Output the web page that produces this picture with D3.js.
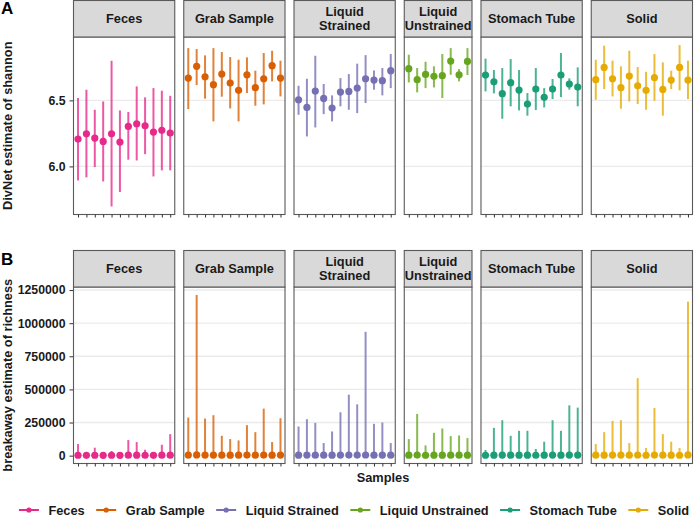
<!DOCTYPE html>
<html>
<head>
<meta charset="utf-8">
<script src="https://cdn.jsdelivr.net/npm/d3@7"></script>
<style>
  html, body { margin: 0; padding: 0; background: #fff; }
  svg { display: block; font-family: "Liberation Sans", Arial, sans-serif; }
</style>
</head>
<body>
<svg id="chart" width="694" height="525"></svg>
<script>
// ---------------- DATA ----------------
const groups = ["Feces", "Grab Sample", "Liquid Strained", "Liquid Unstrained", "Stomach Tube", "Solid"];
const stripLabels = [["Feces"], ["Grab Sample"], ["Liquid", "Strained"], ["Liquid", "Unstrained"], ["Stomach Tube"], ["Solid"]];
const colors = ["#e7298a", "#d95f02", "#7570b3", "#66a61e", "#1b9e77", "#e6ab02"];

// DivNet Shannon: [estimate, lower, upper] per sample
const fecesShannon = [[6.207,5.894,6.518],[6.247,5.917,6.581],[6.215,5.995,6.429],[6.189,5.886,6.492],[6.247,5.697,6.800],[6.184,5.806,6.424],[6.303,6.051,6.412],[6.323,6.045,6.606],[6.308,6.093,6.523],[6.260,5.924,6.593],[6.273,5.970,6.573],[6.253,5.970,6.535]];
const grabShannon = [[6.669,6.434,6.896],[6.758,6.616,6.889],[6.679,6.513,6.841],[6.619,6.341,6.896],[6.699,6.528,6.866],[6.631,6.439,6.828],[6.576,6.341,6.808],[6.694,6.556,6.826],[6.596,6.460,6.725],[6.664,6.470,6.859],[6.763,6.644,6.876],[6.669,6.530,6.801]];
const lsShannon = [[6.505,6.391,6.611],[6.447,6.227,6.664],[6.571,6.295,6.838],[6.515,6.396,6.624],[6.442,6.341,6.538],[6.563,6.455,6.669],[6.568,6.429,6.699],[6.593,6.404,6.778],[6.664,6.480,6.843],[6.654,6.581,6.727],[6.649,6.538,6.745],[6.725,6.593,6.851]];
const luShannon = [[6.740,6.636,6.846],[6.657,6.561,6.745],[6.697,6.593,6.793],[6.682,6.598,6.758],[6.687,6.518,6.851],[6.798,6.694,6.896],[6.694,6.644,6.737],[6.795,6.692,6.896]];
const stShannon = [[6.692,6.568,6.816],[6.641,6.553,6.730],[6.551,6.361,6.745],[6.634,6.455,6.813],[6.578,6.424,6.730],[6.472,6.384,6.556],[6.586,6.427,6.745],[6.523,6.447,6.593],[6.586,6.510,6.662],[6.692,6.525,6.859],[6.624,6.581,6.667],[6.601,6.455,6.750]];
const solidShannon = [[6.657,6.505,6.808],[6.750,6.586,6.914],[6.664,6.530,6.801],[6.596,6.437,6.758],[6.684,6.492,6.876],[6.611,6.472,6.753],[6.576,6.429,6.717],[6.672,6.497,6.851],[6.583,6.384,6.788],[6.654,6.586,6.725],[6.750,6.576,6.919],[6.654,6.510,6.801]];

// breakaway richness: [estimate, lower, upper] per sample
const fecesRich = [[3200,1500,87500],[2600,1400,25000],[3000,1500,60000],[2500,1300,17500],[2900,1500,35000],[2400,1300,10000],[3600,1600,117500],[3400,1600,102500],[3100,1500,45000],[2300,1300,5000],[3300,1500,82500],[3900,1700,162500]];
const grabRich = [[4200,1800,287500],[5200,2000,1212500],[4300,1800,280000],[4500,1900,305000],[3900,1700,150000],[3700,1700,125000],[3600,1700,115000],[4100,1800,230000],[3900,1700,177500],[4600,1900,355000],[3500,1600,102500],[4300,1800,282500]];
const lsRich = [[3800,1700,220000],[4000,1800,275000],[3900,1700,247500],[3300,1600,95000],[3700,1700,182500],[4200,1800,327500],[4600,1900,460000],[4400,1800,387500],[5000,2000,935000],[3900,1700,240000],[4000,1800,250000],[3300,1600,95000]];
const luRich = [[3500,1600,125000],[4100,1800,315000],[3200,1500,77500],[3700,1700,172500],[3800,1700,205000],[3600,1600,147500],[3600,1600,152500],[3500,1600,132500]];
const stRich = [[3000,1500,42500],[3800,1700,210000],[4000,1800,267500],[3600,1600,150000],[3700,1700,187500],[3700,1700,187500],[3100,1500,50000],[3400,1600,105000],[4000,1800,267500],[3700,1700,187500],[4300,1900,380000],[4200,1900,362500]];
const solidRich = [[3300,1500,87500],[3700,1700,177500],[4000,1800,262500],[4000,1800,267500],[3300,1500,95000],[4800,1900,585000],[3000,1500,57500],[4400,1800,360000],[3600,1700,162500],[3400,1600,105000],[3000,1500,57500],[5200,2000,1162500]];

const shannonByGroup = [fecesShannon, grabShannon, lsShannon, luShannon, stShannon, solidShannon];
const richByGroup = [fecesRich, grabRich, lsRich, luRich, stRich, solidRich];

const shannonTicks = [6.0, 6.5];
const richTicks = [0, 250000, 500000, 750000, 1000000, 1250000];

// ---------------- LAYOUT ----------------
const svg = d3.select("#chart");
const W = 694, H = 525;
const plotLeft = 73, plotRight = 693, panelGap = 8;
const font = '"Liberation Sans", Arial, sans-serif';
const borderCol = "#5a5a5a";

const units = shannonByGroup.map(d => d.length + 0.2);
const totalUnits = d3.sum(units);
const pxPerUnit = (plotRight - plotLeft - panelGap * (groups.length - 1)) / totalUnits;
const panelX = [];
let cx = plotLeft;
units.forEach(u => { panelX.push([cx, cx + u * pxPerUnit]); cx += u * pxPerUnit + panelGap; });

function expand(ext) { const r = ext[1] - ext[0]; return [ext[0] - 0.05 * r, ext[1] + 0.05 * r]; }

function drawRow(opts) {
  const { dataByGroup, stripTop, stripH, panelBottom, ticks, fmt, title, letter, letterY } = opts;
  const panelTop = stripTop + stripH;
  const all = dataByGroup.flat();
  const dom = expand([d3.min(all, d => d[1]), d3.max(all, d => d[2])]);
  const y = d3.scaleLinear().domain(dom).range([panelBottom, panelTop]);

  const g = svg.append("g");

  groups.forEach((grp, gi) => {
    const [x0, x1] = panelX[gi];
    const data = dataByGroup[gi];
    const names = data.map((_, i) => grp + " " + (i + 1));
    const x = d3.scalePoint().domain(names).range([x0, x1]).padding(0.6);
    const pg = g.append("g");

    pg.append("rect").attr("x", x0).attr("y", panelTop).attr("width", x1 - x0).attr("height", panelBottom - panelTop).attr("fill", "#fff");
    pg.selectAll("line.grid").data(ticks).join("line")
      .attr("x1", x0).attr("x2", x1)
      .attr("y1", d => y(d)).attr("y2", d => y(d))
      .attr("stroke", "#ebebeb").attr("stroke-width", 1.4);

    pg.selectAll("line.err").data(data).join("line")
      .attr("x1", (d, i) => x(names[i])).attr("x2", (d, i) => x(names[i]))
      .attr("y1", d => y(d[1])).attr("y2", d => y(d[2]))
      .attr("stroke", colors[gi]).attr("stroke-width", 2).attr("stroke-opacity", 0.78);
    pg.selectAll("circle").data(data).join("circle")
      .attr("cx", (d, i) => x(names[i])).attr("cy", d => y(d[0]))
      .attr("r", 3.6).attr("fill", colors[gi]);

    pg.append("rect").attr("x", x0 + 0.5).attr("y", panelTop).attr("width", x1 - x0 - 1).attr("height", panelBottom - panelTop)
      .attr("fill", "none").attr("stroke", borderCol).attr("stroke-width", 1.1);

    pg.append("rect").attr("x", x0 + 0.5).attr("y", stripTop + 0.5).attr("width", x1 - x0 - 1).attr("height", stripH - 0.5)
      .attr("fill", "#d9d9d9").attr("stroke", borderCol).attr("stroke-width", 1.1);
    const lines = stripLabels[gi];
    const lh = 13.5;
    const cy = stripTop + stripH / 2;
    lines.forEach((t, li) => {
      pg.append("text")
        .attr("x", (x0 + x1) / 2)
        .attr("y", cy + (li - (lines.length - 1) / 2) * lh)
        .attr("dy", "0.36em")
        .attr("text-anchor", "middle")
        .attr("font-family", font).attr("font-weight", "bold").attr("font-size", 12.8)
        .attr("fill", "#1a1a1a")
        .text(t);
    });

    const xa = pg.append("g").attr("transform", `translate(0,${panelBottom})`)
      .call(d3.axisBottom(x).tickSize(3).tickFormat(""));
    xa.select(".domain").remove();
    xa.selectAll(".tick line").attr("stroke", "#333").attr("stroke-width", 1);
  });

  const ya = g.append("g").attr("transform", `translate(${plotLeft},0)`)
    .call(d3.axisLeft(y).tickValues(ticks).tickFormat(fmt).tickSize(3.5).tickPadding(4));
  ya.select(".domain").remove();
  ya.selectAll(".tick line").attr("stroke", "#333");
  ya.selectAll(".tick text").attr("font-family", font).attr("font-weight", "bold").attr("font-size", 12.3).attr("fill", "#1a1a1a");

  g.append("text")
    .attr("transform", `translate(12,${(panelTop + panelBottom) / 2}) rotate(-90)`)
    .attr("text-anchor", "middle")
    .attr("font-family", font).attr("font-weight", "bold").attr("font-size", 12.8).attr("fill", "#1a1a1a")
    .text(title);

  g.append("text").attr("x", 1).attr("y", letterY)
    .attr("font-family", font).attr("font-weight", "bold").attr("font-size", 17).attr("fill", "#000")
    .text(letter);
}

drawRow({ dataByGroup: shannonByGroup, stripTop: 0, stripH: 37, panelBottom: 214.5,
  ticks: shannonTicks, fmt: d3.format(".1f"), title: "DivNet estimate of shannon", letter: "A", letterY: 14 });
drawRow({ dataByGroup: richByGroup, stripTop: 250, stripH: 37, panelBottom: 463.5,
  ticks: richTicks, fmt: d3.format("d"), title: "breakaway estimate of richness", letter: "B", letterY: 265 });

svg.append("text").attr("x", (plotLeft + plotRight) / 2).attr("y", 482)
  .attr("text-anchor", "middle")
  .attr("font-family", font).attr("font-weight", "bold").attr("font-size", 12.8).attr("fill", "#1a1a1a")
  .text("Samples");

// legend
const legY = 510;
const leg = svg.append("g");
let lx = 0;
const items = [];
groups.forEach((grp, gi) => {
  const it = leg.append("g");
  it.append("line").attr("x1", 0).attr("x2", 20).attr("y1", 0).attr("y2", 0)
    .attr("stroke", colors[gi]).attr("stroke-width", 2);
  it.append("circle").attr("cx", 10).attr("cy", 0).attr("r", 2.6).attr("fill", colors[gi]);
  const t = it.append("text").attr("x", 29.5).attr("dy", "0.36em")
    .attr("font-family", font).attr("font-weight", "bold").attr("font-size", 12.8).attr("fill", "#1a1a1a")
    .text(grp);
  const w = 29.5 + t.node().getComputedTextLength();
  items.push({ it, x: lx });
  lx += w + 11.5;
});
const legW = lx - 11.5;
const legStart = 354 - legW / 2;
items.forEach(d => d.it.attr("transform", `translate(${legStart + d.x},${legY})`));
</script>
</body>
</html>
